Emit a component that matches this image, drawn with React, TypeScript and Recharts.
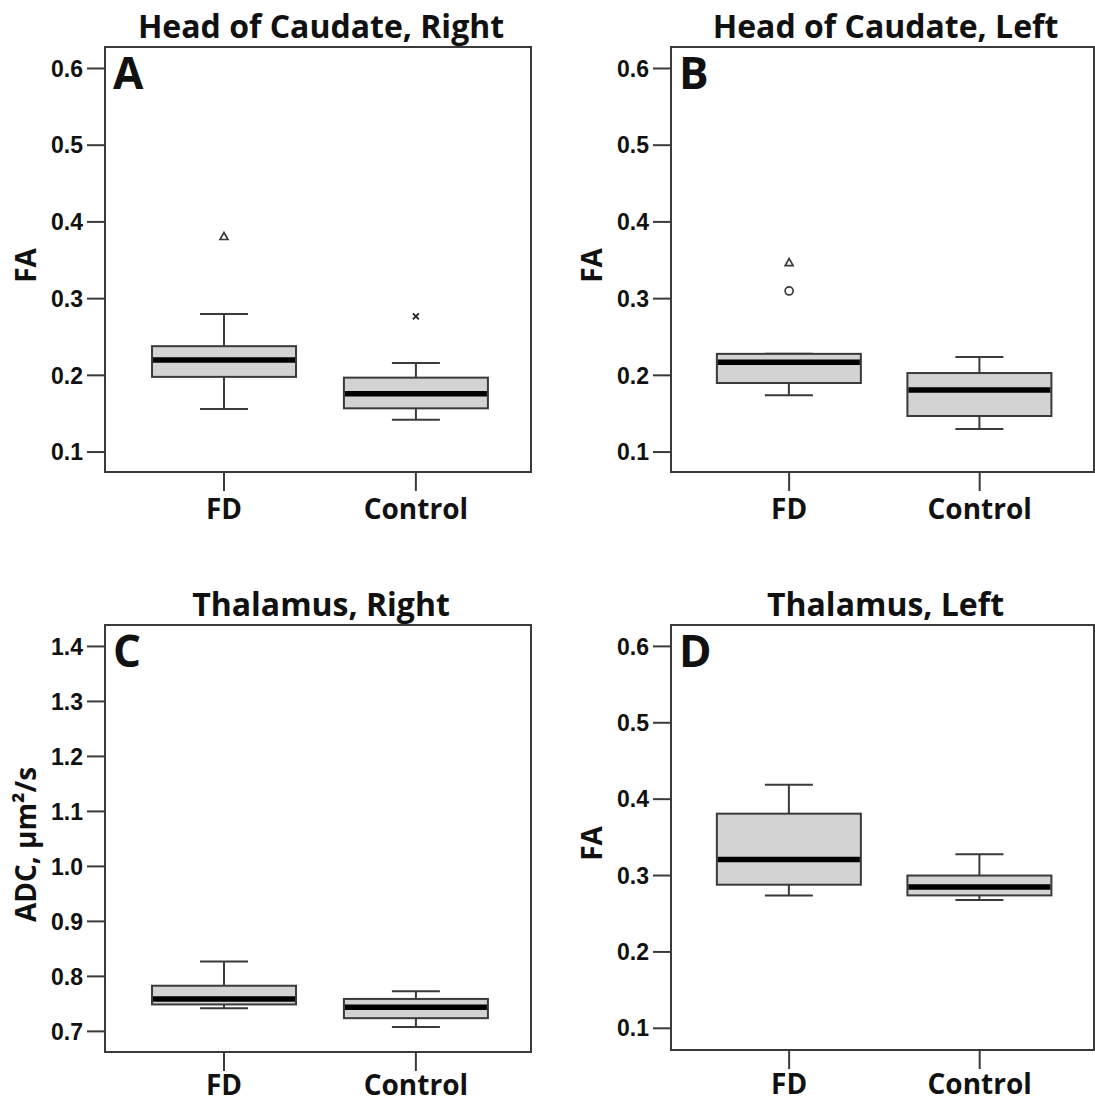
import { Bar, ComposedChart, ReferenceArea, Scatter, XAxis, YAxis } from 'recharts';

const GROUPS = ['FD', 'Control'];

// five-number summaries: [lower whisker, Q1, median, Q3, upper whisker]
const caudateRightFD = [0.156, 0.198, 0.22, 0.238, 0.28];
const caudateRightControl = [0.142, 0.157, 0.176, 0.197, 0.216];
const caudateLeftFD = [0.174, 0.19, 0.217, 0.228, 0.228];
const caudateLeftControl = [0.13, 0.147, 0.181, 0.203, 0.224];
const thalamusRightFD = [0.742, 0.749, 0.759, 0.783, 0.827];
const thalamusRightControl = [0.708, 0.724, 0.744, 0.759, 0.773];
const thalamusLeftFD = [0.274, 0.288, 0.321, 0.381, 0.419];
const thalamusLeftControl = [0.268, 0.274, 0.285, 0.3, 0.328];

// outliers: x 1 = FD, x 2 = Control
const caudateRightOutliers = [
  { x: 1, value: 0.381, symbol: 'triangle' },
  { x: 2, value: 0.277, symbol: 'cross' },
];
const caudateLeftOutliers = [
  { x: 1, value: 0.347, symbol: 'triangle' },
  { x: 1, value: 0.31, symbol: 'circle' },
];

const FA_TICKS = [0.1, 0.2, 0.3, 0.4, 0.5, 0.6];
const ADC_TICKS = [0.7, 0.8, 0.9, 1.0, 1.1, 1.2, 1.3, 1.4];

const LINE = '#3a3a3a';
const BOX_FILL = '#d3d3d3';
const TITLE_FONT = '"Open Sans", sans-serif';
const TICK_FONT = '"Liberation Sans", Arial, sans-serif';
const Y_AXIS_WIDTH = 90;
const X_AXIS_HEIGHT = 51;

function buildRows(fd: number[], control: number[]) {
  return [fd, control].map((s, i) => ({
    x: i + 1,
    name: GROUPS[i],
    low: s[0],
    q1: s[1],
    median: s[2],
    q3: s[3],
    high: s[4],
    range: [s[0], s[4]],
  }));
}

function BoxShape(props: any) {
  const { x, y, width, height, payload } = props;
  const top = Math.min(y, y + height);
  const bottom = Math.max(y, y + height);
  const span = payload.high - payload.low;
  const py = (v: number) => bottom - ((v - payload.low) / span) * (bottom - top);
  const cx = x + width / 2;
  const cap = width / 6;
  return (
    <g>
      <line x1={cx} x2={cx} y1={py(payload.high)} y2={py(payload.q3)} stroke={LINE} strokeWidth={2} />
      <line x1={cx} x2={cx} y1={py(payload.q1)} y2={py(payload.low)} stroke={LINE} strokeWidth={2} />
      <line x1={cx - cap} x2={cx + cap} y1={py(payload.high)} y2={py(payload.high)} stroke={LINE} strokeWidth={2} />
      <line x1={cx - cap} x2={cx + cap} y1={py(payload.low)} y2={py(payload.low)} stroke={LINE} strokeWidth={2} />
      <rect
        x={x}
        y={py(payload.q3)}
        width={width}
        height={py(payload.q1) - py(payload.q3)}
        fill={BOX_FILL}
        stroke={LINE}
        strokeWidth={2}
      />
      <line x1={x + 1} x2={x + width - 1} y1={py(payload.median)} y2={py(payload.median)} stroke="#000" strokeWidth={5.5} />
    </g>
  );
}

function OutlierShape(props: any) {
  const { cx, cy, payload } = props;
  if (payload.symbol === 'triangle') {
    return (
      <path
        d={`M${cx},${cy - 4} L${cx + 4},${cy + 3} L${cx - 4},${cy + 3} Z`}
        fill="none"
        stroke={LINE}
        strokeWidth={1.7}
      />
    );
  }
  if (payload.symbol === 'circle') {
    return <circle cx={cx} cy={cy} r={4} fill="none" stroke={LINE} strokeWidth={1.7} />;
  }
  return (
    <path
      d={`M${cx - 3},${cy - 3} L${cx + 3},${cy + 3} M${cx + 3},${cy - 3} L${cx - 3},${cy + 3}`}
      stroke="#222"
      strokeWidth={1.8}
    />
  );
}

interface PanelProps {
  left: number;
  top: number;
  width: number;
  height: number;
  plot: { x: number; y: number; w: number; h: number };
  title: string;
  letter: string;
  yLabel: string;
  domain: [number, number];
  ticks: number[];
  fd: number[];
  control: number[];
  outliers?: { x: number; value: number; symbol: string }[];
  labelGap?: number;
}

function Panel({
  left,
  top,
  width,
  height,
  plot,
  title,
  letter,
  yLabel,
  domain,
  ticks,
  fd,
  control,
  outliers,
  labelGap = 8,
}: PanelProps) {
  const rows = buildRows(fd, control);
  const margin = {
    top: plot.y,
    left: plot.x - Y_AXIS_WIDTH,
    right: width - plot.x - plot.w,
    bottom: height - plot.y - plot.h - X_AXIS_HEIGHT,
  };
  return (
    <div style={{ position: 'absolute', left, top, width, height }}>
      <ComposedChart width={width} height={height} data={rows} margin={margin}>
        <XAxis
          dataKey="x"
          type="number"
          domain={[0.38, 2.6]}
          ticks={[1, 2]}
          allowDataOverflow
          height={X_AXIS_HEIGHT}
          axisLine={false}
          tickSize={19}
          tickMargin={labelGap}
          tickLine={{ stroke: LINE, strokeWidth: 2 }}
          tickFormatter={(v: number) => GROUPS[v - 1]}
          tick={{ fill: '#111', fontFamily: TITLE_FONT, fontWeight: 700, fontSize: 28 }}
        />
        <YAxis
          type="number"
          domain={domain}
          ticks={ticks}
          allowDataOverflow
          width={Y_AXIS_WIDTH}
          axisLine={false}
          tickSize={18}
          tickMargin={4}
          tickLine={{ stroke: LINE, strokeWidth: 2 }}
          tickFormatter={(v: number) => v.toFixed(1)}
          tick={{ fill: '#111', fontFamily: TICK_FONT, fontWeight: 700, fontSize: 23 }}
        />
        <ReferenceArea
          x1={0.38}
          x2={2.6}
          y1={domain[0]}
          y2={domain[1]}
          fill="none"
          stroke={LINE}
          strokeWidth={2}
        />
        <Bar dataKey="range" barSize={144} shape={<BoxShape />} isAnimationActive={false} />
        {outliers && (
          <Scatter data={outliers} dataKey="value" shape={<OutlierShape />} isAnimationActive={false} />
        )}
      </ComposedChart>
      <svg
        width={width}
        height={height}
        style={{ position: 'absolute', left: 0, top: 0, pointerEvents: 'none' }}
      >
        <text
          x={plot.x + plot.w / 2 + 3}
          y={plot.y - 9}
          textAnchor="middle"
          fontFamily={TITLE_FONT}
          fontWeight={700}
          fontSize={32}
          fill="#111"
        >
          {title}
        </text>
        <text x={plot.x + 8} y={plot.y + 42} fontFamily={TITLE_FONT} fontWeight={700} fontSize={44} fill="#111">
          {letter}
        </text>
        <text
          x={plot.x - 80}
          y={plot.y + plot.h / 2 + 6}
          transform={`rotate(-90 ${plot.x - 80} ${plot.y + plot.h / 2 + 6})`}
          textAnchor="middle"
          dominantBaseline="central"
          fontFamily={TITLE_FONT}
          fontWeight={700}
          fontSize={28}
          fill="#111"
        >
          {yLabel}
        </text>
      </svg>
    </div>
  );
}

export default function App() {
  return (
    <div
      style={{
        position: 'absolute',
        left: 0,
        top: 0,
        width: 1095,
        height: 1103,
        overflow: 'hidden',
        background: '#fff',
      }}
    >
      <Panel
        left={0}
        top={0}
        width={548}
        height={548}
        plot={{ x: 105, y: 47, w: 426, h: 425 }}
        title="Head of Caudate, Right"
        letter="A"
        yLabel="FA"
        domain={[0.074, 0.628]}
        ticks={FA_TICKS}
        fd={caudateRightFD}
        control={caudateRightControl}
        outliers={caudateRightOutliers}
      />
      <Panel
        left={566}
        top={0}
        width={529}
        height={548}
        plot={{ x: 105, y: 47, w: 423, h: 425 }}
        title="Head of Caudate, Left"
        letter="B"
        yLabel="FA"
        domain={[0.074, 0.628]}
        ticks={FA_TICKS}
        fd={caudateLeftFD}
        control={caudateLeftControl}
        outliers={caudateLeftOutliers}
      />
      <Panel
        left={0}
        top={570}
        width={548}
        height={548}
        plot={{ x: 105, y: 55, w: 426, h: 427 }}
        title="Thalamus, Right"
        letter="C"
        yLabel="ADC, μm²/s"
        domain={[0.6625, 1.439]}
        ticks={ADC_TICKS}
        fd={thalamusRightFD}
        control={thalamusRightControl}
        labelGap={4}
      />
      <Panel
        left={566}
        top={570}
        width={529}
        height={548}
        plot={{ x: 105, y: 55, w: 423, h: 425 }}
        title="Thalamus, Left"
        letter="D"
        yLabel="FA"
        domain={[0.0716, 0.628]}
        ticks={FA_TICKS}
        fd={thalamusLeftFD}
        control={thalamusLeftControl}
        labelGap={5}
      />
    </div>
  );
}
